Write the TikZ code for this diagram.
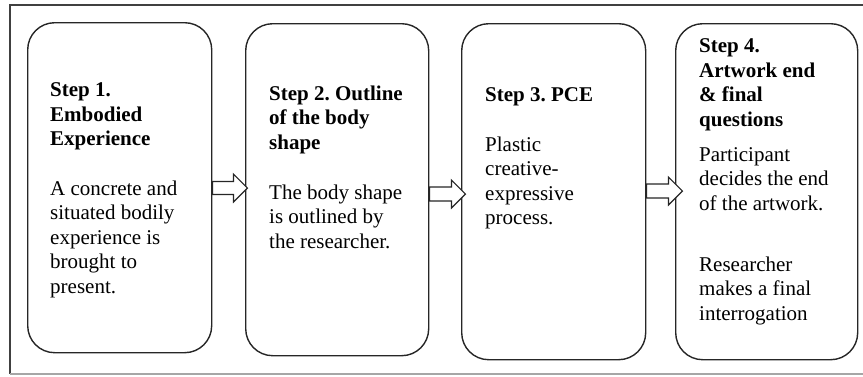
\documentclass[tikz,border=0pt]{standalone}
\usepackage{fontspec}
\setmainfont{Liberation Serif}
\frenchspacing
\begin{document}
\begin{tikzpicture}[x=1pt,y=-1pt,
  stepbox/.style={draw=black!85, line width=1.4pt, rounded corners=27pt, anchor=north west, inner sep=0pt},
  txt/.style={anchor=base west, align=left, inner sep=0pt, font=\fontsize{21}{24.5}\selectfont},
  ttl/.style={txt, font=\fontsize{21}{24.5}\selectfont\bfseries},
  flow/.style={draw=black!85, line width=1.2pt, fill=white, line join=miter}
]
\useasboundingbox (0,0) rectangle (863,376);
\draw[black!75, line width=1.2pt] (863,5) -- (10,5) -- (10,374);
\draw[black!35, line width=1.2pt] (10,374) -- (863,374);

\node[stepbox, minimum width=184pt, minimum height=330pt] (b1) at (27,22) {};
\node[stepbox, minimum width=183pt, minimum height=332pt] (b2) at (245,23) {};
\node[stepbox, minimum width=184pt, minimum height=336pt] (b3) at (461,23) {};
\node[stepbox, minimum width=182pt, minimum height=336pt] (b4) at (675,23) {};

\draw[flow] (b1.east |- 0,188) ++(0,-6.5) -- ++(21,0) -- ++(0,-7.5) -- ++(14,14) -- ++(-14,14) -- ++(0,-7.5) -- ++(-21,0) -- cycle;
\draw[flow] (b2.east |- 0,194) ++(0,-7) -- ++(22,0) -- ++(0,-7) -- ++(14,14) -- ++(-14,14) -- ++(0,-7) -- ++(-22,0) -- cycle;
\draw[flow] (b3.east |- 0,191) ++(0,-7) -- ++(22,0) -- ++(0,-7) -- ++(14,14) -- ++(-14,14) -- ++(0,-7) -- ++(-22,0) -- cycle;

\node[ttl] (t1) at (50,145.5) {Step 1.\\Embodied\\Experience};
\node[txt] (p1) at (50,293) {A concrete and\\situated bodily\\experience is\\brought to\\present.};

\node[ttl] (t2) at (269,149) {Step 2. Outline\\of the body\\shape};
\node[txt] (p2) at (269,248) {The body shape\\is outlined by\\the researcher.};

\node[ttl] (t3) at (485,101) {Step 3. PCE};
\node[txt] (p3) at (485,224.5) {Plastic\\creative-\\expressive\\process.};

\node[ttl] (t4) at (699,126.2) {Step 4.\\Artwork end\\\& final\\questions};
\node[txt] (p4) at (699,210) {Participant\\decides the end\\of the artwork.};
\node[txt] (r4) at (699,320) {Researcher\\makes a final\\interrogation};
\end{tikzpicture}
\end{document}
